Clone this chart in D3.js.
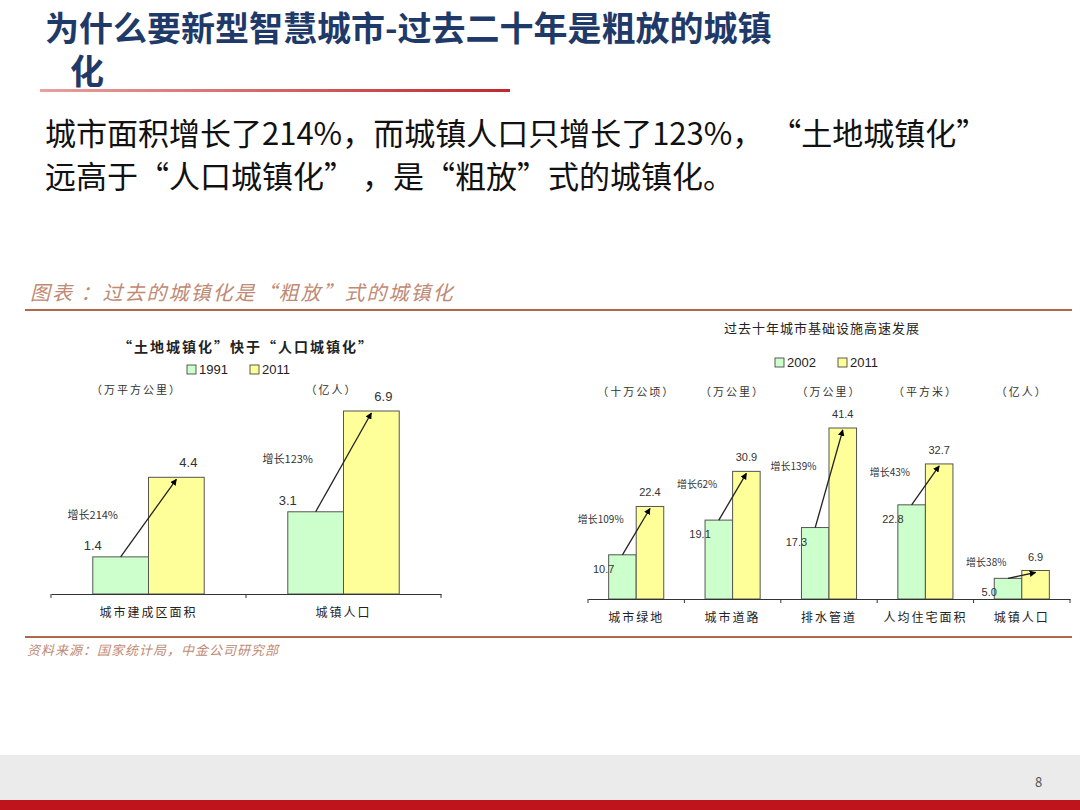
<!DOCTYPE html>
<html><head><meta charset="utf-8">
<script src="https://cdn.jsdelivr.net/npm/d3@7"></script>
<style>body{margin:0;background:#fff}svg{display:block;font-family:"Noto Sans CJK SC","Noto Sans",sans-serif}</style>
</head><body><div id="chart"></div>
<script>
// 左图数据
var catsA = ["城市建成区面积", "城镇人口"];
var unitsA = ["（万平方公里）", "（亿人）"];
var a1991 = [1.4, 3.1];
var a2011 = [4.4, 6.9];
var growA = ["增长214%", "增长123%"];
// 右图数据
var catsB = ["城市绿地", "城市道路", "排水管道", "人均住宅面积", "城镇人口"];
var unitsB = ["（十万公顷）", "（万公里）", "（万公里）", "（平方米）", "（亿人）"];
var b2002 = [10.7, 19.1, 17.3, 22.8, 5.0];
var b2011 = [22.4, 30.9, 41.4, 32.7, 6.9];
var growB = ["增长109%", "增长62%", "增长139%", "增长43%", "增长38%"];

var green = "#ccffcc", yellow = "#ffff99";
var svg = d3.select("#chart").append("svg").attr("width", 1080).attr("height", 810);
svg.append("defs").append("marker").attr("id", "ar").attr("viewBox", "0 0 10 10")
  .attr("refX", 9).attr("refY", 5).attr("markerWidth", 5).attr("markerHeight", 5).attr("orient", "auto")
  .append("path").attr("d", "M0,0L10,5L0,10z").attr("fill", "#000");

// 页面
svg.append("text").attr("x", 45).attr("y", 41).attr("font-size", 34).attr("font-weight", "bold")
  .attr("fill", "#1f3a68").text("为什么要新型智慧城市-过去二十年是粗放的城镇");
svg.append("text").attr("x", 70).attr("y", 84).attr("font-size", 34).attr("font-weight", "bold")
  .attr("fill", "#1f3a68").text("化");
var lg = svg.select("defs").append("linearGradient").attr("id", "ul");
lg.append("stop").attr("offset", "0").attr("stop-color", "#e8a0a0");
lg.append("stop").attr("offset", "1").attr("stop-color", "#c0282c");
svg.append("rect").attr("x", 40).attr("y", 89).attr("width", 470).attr("height", 3).attr("fill", "url(#ul)");
svg.append("text").attr("x", 45).attr("y", 145).attr("font-size", 31).attr("fill", "#111")
  .text("城市面积增长了214%，而城镇人口只增长了123%， “土地城镇化”");
svg.append("text").attr("x", 45).attr("y", 188).attr("font-size", 31).attr("fill", "#111")
  .text("远高于“人口城镇化” ，是“粗放”式的城镇化。");
svg.append("text").attr("x", 30).attr("y", 300).attr("font-size", 20).attr("font-style", "italic")
  .attr("fill", "#c08a74").attr("letter-spacing", 2).text("图表 ：过去的城镇化是“粗放”式的城镇化");
svg.append("line").attr("x1", 25).attr("x2", 1072).attr("y1", 310).attr("y2", 310).attr("stroke", "#b0684a").attr("stroke-width", 2);
svg.append("line").attr("x1", 25).attr("x2", 1072).attr("y1", 637).attr("y2", 637).attr("stroke", "#b0684a").attr("stroke-width", 2);
svg.append("text").attr("x", 27).attr("y", 655).attr("font-size", 13).attr("font-style", "italic")
  .attr("fill", "#c08a74").attr("letter-spacing", 1).text("资料来源：国家统计局，中金公司研究部");
svg.append("rect").attr("x", 0).attr("y", 755).attr("width", 1080).attr("height", 45).attr("fill", "#ebebeb");
svg.append("rect").attr("x", 0).attr("y", 800).attr("width", 1080).attr("height", 10).attr("fill", "#c0141c");
svg.append("text").attr("x", 1035).attr("y", 787).attr("font-size", 13).attr("fill", "#555").text("8");

function legend(x, y, labels, fs) {
  labels.forEach(function (l, i) {
    var gx = x + i * 63;
    svg.append("rect").attr("x", gx).attr("y", y - 9).attr("width", 9).attr("height", 9)
      .attr("fill", i ? yellow : green).attr("stroke", "#333").attr("stroke-width", 0.8);
    svg.append("text").attr("x", gx + 12).attr("y", y).attr("font-size", fs).attr("fill", "#222")
      .attr("font-family", "Liberation Sans").text(l);
  });
}

function drawChart(o) {
  var x0 = d3.scaleBand().domain(o.cats).range([o.x1, o.x2]);
  var x1 = d3.scaleBand().domain([0, 1]).range([0, x0.bandwidth()]).paddingInner(0).paddingOuter(o.pad);
  var y = d3.scaleLinear().domain([0, o.max]).range([o.base, o.base - o.h]);
  var g = svg.append("g");
  var data = o.cats.map(function (c, i) { return { c: c, v: [o.s1[i], o.s2[i]], u: o.units[i], gr: o.grow[i] }; });
  var grp = g.selectAll("g.grp").data(data).enter().append("g").attr("transform", function (d) { return "translate(" + x0(d.c) + ",0)"; });
  grp.selectAll("rect").data(function (d) { return d.v; }).enter().append("rect")
    .attr("x", function (d, i) { return x1(i); }).attr("width", x1.bandwidth())
    .attr("y", function (d) { return y(d); }).attr("height", function (d) { return o.base - y(d); })
    .attr("fill", function (d, i) { return i ? yellow : green; }).attr("stroke", "#555").attr("stroke-width", 1);
  grp.append("line")
    .attr("x1", x1(0) + x1.bandwidth() / 2).attr("y1", function (d) { return y(d.v[0]); })
    .attr("x2", x1(1) + x1.bandwidth() / 2).attr("y2", function (d) { return y(d.v[1]) + 2; })
    .attr("stroke", "#222").attr("stroke-width", 1.3).attr("marker-end", "url(#ar)");
  grp.append("text").attr("x", x1(0) + o.lab0dx).attr("y", function (d) { return y(d.v[0]) + o.lab0dy; })
    .attr("text-anchor", "middle").attr("font-size", o.fs).attr("fill", "#333").attr("font-family", "Liberation Sans")
    .text(function (d) { return d.v[0].toFixed(1); });
  grp.append("text").attr("x", x1(1) + x1.bandwidth() / 2 + o.lab1dx).attr("y", function (d) { return y(d.v[1]) - 10; })
    .attr("text-anchor", "middle").attr("font-size", o.fs).attr("fill", "#333").attr("font-family", "Liberation Sans")
    .text(function (d) { return d.v[1].toFixed(1); });
  grp.append("text").attr("x", x1(0) + o.grdx)
    .attr("y", function (d) { var m = (y(d.v[0]) + y(d.v[1])) / 2; return m + o.grdy; })
    .attr("text-anchor", "middle").attr("font-size", o.gfs).attr("fill", "#333").text(function (d) { return d.gr; });
  grp.append("text").attr("x", x0.bandwidth() / 2 + o.unitdx).attr("y", o.unitY).attr("text-anchor", "middle")
    .attr("font-size", 11).attr("fill", "#333").attr("letter-spacing", 2).text(function (d) { return d.u; });
  var ax = g.append("g").attr("transform", "translate(0," + o.base + ")")
    .call(d3.axisBottom(x0).tickSize(0).tickPadding(14));
  ax.select(".domain").attr("stroke", "#333");
  ax.selectAll("text").attr("font-size", 12).attr("fill", "#222").attr("letter-spacing", 2)
    .attr("font-family", "Noto Sans CJK SC");
  var ends = [o.x1].concat(o.cats.map(function (c) { return x0(c) + x0.bandwidth(); }));
  g.selectAll("line.tk").data(ends).enter().append("line").attr("x1", function (d) { return d; }).attr("x2", function (d) { return d; })
    .attr("y1", o.base).attr("y2", o.base + 4).attr("stroke", "#333");
}

// 左图
svg.append("text").attr("x", 246).attr("y", 352).attr("text-anchor", "middle").attr("font-size", 14)
  .attr("font-weight", "bold").attr("fill", "#222").attr("letter-spacing", 2).text("“土地城镇化”快于“人口城镇化”");
legend(187, 374, ["1991", "2011"], 13);
drawChart({ cats: catsA, units: unitsA, s1: a1991, s2: a2011, grow: growA, x1: 51, x2: 441, base: 594, h: 183, max: 6.9,
  pad: 0.75, fs: 13, gfs: 11, lab0dx: 0, lab0dy: -7, grdx: 0, grdy: 2, unitY: 394, unitdx: -12, lab1dx: 12 });

// 右图
svg.append("text").attr("x", 822).attr("y", 333).attr("text-anchor", "middle").attr("font-size", 13)
  .attr("fill", "#222").attr("letter-spacing", 1).text("过去十年城市基础设施高速发展");
legend(775, 367, ["2002", "2011"], 13);
drawChart({ cats: catsB, units: unitsB, s1: b2002, s2: b2011, grow: growB, x1: 588, x2: 1070, base: 599, h: 171, max: 41.4,
  pad: 0.75, fs: 11, gfs: 10, lab0dx: -5, lab0dy: 18, grdx: -8, grdy: -8, unitY: 396, unitdx: 0, lab1dx: 0 });
</script>
</body></html>
